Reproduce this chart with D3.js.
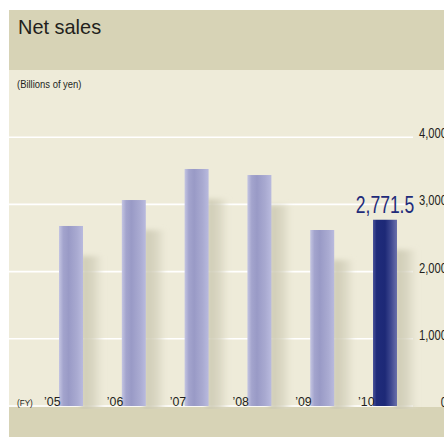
<!DOCTYPE html>
<html>
<head>
<meta charset="utf-8">
<script src="https://cdn.jsdelivr.net/npm/d3@7"></script>
<style>
  html, body { margin: 0; padding: 0; background: #ffffff; }
  svg { display: block; }
  text { font-family: 'Liberation Sans', Arial, sans-serif; }
</style>
</head>
<body>
<svg id="chart" width="444" height="437"></svg>
<script>
// Net sales by fiscal year (billions of yen)
const years = ["’05", "’06", "’07", "’08", "’09", "’10"];
const sales = [2679, 3065, 3527, 3437, 2619, 2771.5];
const yTicks = [0, 1000, 2000, 3000, 4000];
const highlightLabel = "2,771.5";

const svg = d3.select("#chart");
const W = 444, H = 437;
const panelLeft = 9;
const baseY = 406;

const y = d3.scaleLinear().domain([0, 4000]).range([baseY, 137.2]);
const x = d3.scaleBand().domain(years).range([59, 397]).paddingInner(0.618).paddingOuter(0);

// condensed text: horizontal squeeze about the anchor point
function condensed(sel, sx) {
  return sel.attr("transform", function () {
    const tx = +this.getAttribute("data-x"), ty = +this.getAttribute("data-y");
    return `translate(${tx},${ty}) scale(${sx},1)`;
  });
}
function label(parent, px, py, str, size, sx, anchor, color) {
  const t = parent.append("text")
    .attr("data-x", px).attr("data-y", py)
    .attr("font-size", size)
    .attr("text-anchor", anchor || "start")
    .attr("fill", color || "#231f1c")
    .text(str);
  condensed(t, sx);
  return t;
}

const defs = svg.append("defs");

// bar gradients: light edge, deeper body, softer right side
function barGrad(id, stops) {
  const g = defs.append("linearGradient").attr("id", id).attr("x1", "0").attr("x2", "1").attr("y1", "0").attr("y2", "0");
  stops.forEach(([o, c]) => g.append("stop").attr("offset", o).attr("stop-color", c));
}
barGrad("barLight", [[0, "#c4c5e2"], [0.18, "#a3a4cd"], [0.4, "#999ac6"], [0.75, "#a9aad1"], [1, "#b9bade"]]);
barGrad("barDark", [[0, "#4a539a"], [0.15, "#1f2b7a"], [0.5, "#1d2977"], [0.75, "#3e4890"], [1, "#6a70aa"]]);

const sg = defs.append("linearGradient").attr("id", "shadowGrad").attr("x1", "0").attr("x2", "1");
sg.append("stop").attr("offset", 0).attr("stop-color", "#cbc8b1").attr("stop-opacity", 0.95);
sg.append("stop").attr("offset", 0.6).attr("stop-color", "#d3d0bb").attr("stop-opacity", 0.75);
sg.append("stop").attr("offset", 1).attr("stop-color", "#e0ddca").attr("stop-opacity", 0.25);

const blur = defs.append("filter").attr("id", "soft").attr("x", "-50%").attr("y", "-20%").attr("width", "200%").attr("height", "140%");
blur.append("feGaussianBlur").attr("stdDeviation", 2.5);

defs.append("clipPath").attr("id", "plotClip")
  .append("rect").attr("x", panelLeft).attr("y", 70).attr("width", W - panelLeft).attr("height", baseY - 70 + 3);

// background panels
svg.append("rect").attr("x", panelLeft).attr("y", 10).attr("width", W - panelLeft).attr("height", 60).attr("fill", "#d7d3b6");
svg.append("rect").attr("x", panelLeft).attr("y", 70).attr("width", W - panelLeft).attr("height", baseY - 70 + 1).attr("fill", "#eeebd9");
svg.append("rect").attr("x", panelLeft).attr("y", baseY + 1).attr("width", W - panelLeft).attr("height", H - baseY - 1).attr("fill", "#d7d3b6");

// title and unit
label(svg, 18, 33.5, "Net sales", 21, 0.95);
label(svg, 17, 88, "(Billions of yen)", 10.5, 0.9);

// gridlines
svg.append("g").selectAll("line").data(yTicks).join("line")
  .attr("x1", panelLeft).attr("x2", 413)
  .attr("y1", d => y(d)).attr("y2", d => y(d))
  .attr("stroke", "#ffffff").attr("stroke-width", 1.6);

// y-axis labels on the right edge
const yLab = svg.append("g");
yTicks.forEach(v => label(yLab, 447, y(v) + 1, d3.format(",")(v), 14, 0.8, "end"));

// cast shadows behind the bars
const plot = svg.append("g").attr("clip-path", "url(#plotClip)");
plot.selectAll("rect.shadow").data(sales).join("rect")
  .attr("class", "shadow")
  .attr("x", (d, i) => x(years[i]) + x.bandwidth() - 2)
  .attr("y", d => y(d) + 30)
  .attr("width", 21)
  .attr("height", d => baseY + 6 - (y(d) + 30))
  .attr("fill", "url(#shadowGrad)")
  .attr("filter", "url(#soft)");

// bars
svg.append("g").selectAll("rect.bar").data(sales).join("rect")
  .attr("class", "bar")
  .attr("x", (d, i) => x(years[i]))
  .attr("y", d => y(d))
  .attr("width", x.bandwidth())
  .attr("height", d => baseY - y(d))
  .attr("fill", (d, i) => i === sales.length - 1 ? "url(#barDark)" : "url(#barLight)");

// value label for the latest year
const last = sales.length - 1;
label(svg, x(years[last]) + x.bandwidth() / 2, y(sales[last]) - 7, highlightLabel, 24, 0.73, "middle", "#1f2b7a");

// category labels
const xLab = svg.append("g");
years.forEach(yr => label(xLab, x(yr) + 1.5, baseY, yr, 13, 0.95, "end"));
label(svg, 17, baseY, "(FY)", 9, 0.9);
</script>
</body>
</html>
